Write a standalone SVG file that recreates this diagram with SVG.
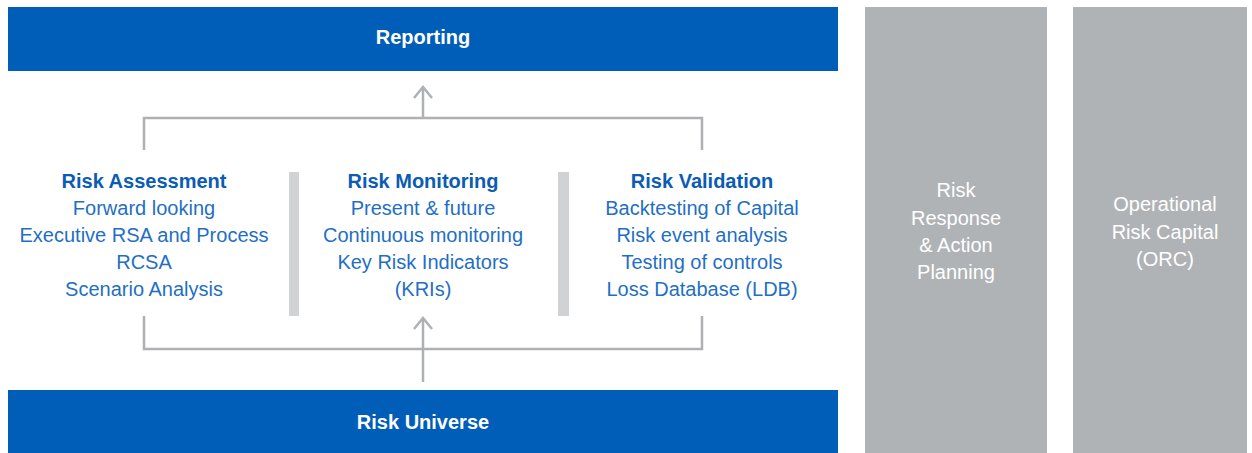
<svg xmlns="http://www.w3.org/2000/svg" width="1252" height="453" viewBox="0 0 1252 453">
<style>
.bar{fill:#005eb8}
.col{fill:#b0b3b6}
.sep{fill:#d1d2d4}
.bt{font-family:"Liberation Sans",Arial,sans-serif;font-weight:bold;font-size:20px;fill:#ffffff;text-anchor:middle}
.h{font-family:"Liberation Sans",Arial,sans-serif;font-weight:bold;font-size:20px;fill:#0a5cb4;text-anchor:middle}
.t{font-family:"Liberation Sans",Arial,sans-serif;font-size:20px;fill:#1f6fc5;text-anchor:middle}
.w{font-family:"Liberation Sans",Arial,sans-serif;font-size:20px;fill:#ffffff;text-anchor:middle}
.c{fill:none;stroke:#aeb0b3;stroke-width:2.5}
</style>
<rect width="1252" height="453" fill="#ffffff"/>
<g id="reporting">
<rect class="bar" x="8" y="7" width="830" height="64"/>
<text class="bt" x="423" y="44">Reporting</text>
</g>
<g id="risk-universe">
<rect class="bar" x="8" y="390" width="830" height="63"/>
<text class="bt" x="423" y="429">Risk Universe</text>
</g>
<g id="risk-response">
<rect class="col" x="865" y="7" width="182" height="446"/>
<text class="w" x="956" y="197">Risk</text>
<text class="w" x="956" y="225">Response</text>
<text class="w" x="956" y="252">&amp; Action</text>
<text class="w" x="956" y="279">Planning</text>
</g>
<g id="orc">
<rect class="col" x="1073" y="7" width="174" height="446"/>
<text class="w" x="1165" y="211">Operational</text>
<text class="w" x="1165" y="239">Risk Capital</text>
<text class="w" x="1165" y="266">(ORC)</text>
</g>
<g id="separators">
<rect class="sep" x="289" y="172" width="10" height="144"/>
<rect class="sep" x="558" y="172" width="11" height="144"/>
</g>
<g id="risk-assessment">
<text class="h" x="144" y="188">Risk Assessment</text>
<text class="t" x="144" y="215">Forward looking</text>
<text class="t" x="144" y="242">Executive RSA and Process</text>
<text class="t" x="144" y="269">RCSA</text>
<text class="t" x="144" y="296">Scenario Analysis</text>
</g>
<g id="risk-monitoring">
<text class="h" x="423" y="188">Risk Monitoring</text>
<text class="t" x="423" y="215">Present &amp; future</text>
<text class="t" x="423" y="242">Continuous monitoring</text>
<text class="t" x="423" y="269">Key Risk Indicators</text>
<text class="t" x="423" y="296">(KRIs)</text>
</g>
<g id="risk-validation">
<text class="h" x="702" y="188">Risk Validation</text>
<text class="t" x="702" y="215">Backtesting of Capital</text>
<text class="t" x="702" y="242">Risk event analysis</text>
<text class="t" x="702" y="269">Testing of controls</text>
<text class="t" x="702" y="296">Loss Database (LDB)</text>
</g>
<g id="connectors">
<path class="c" d="M144 150 V118 H702 V150"/>
<path class="c" d="M423 118 V87"/>
<path class="c" d="M414 98 L423 87 L432 98"/>
<path class="c" d="M144 316 V349 H702 V316"/>
<path class="c" d="M423 382 V319"/>
<path class="c" d="M414 329 L423 318 L432 329"/>
</g>
</svg>
